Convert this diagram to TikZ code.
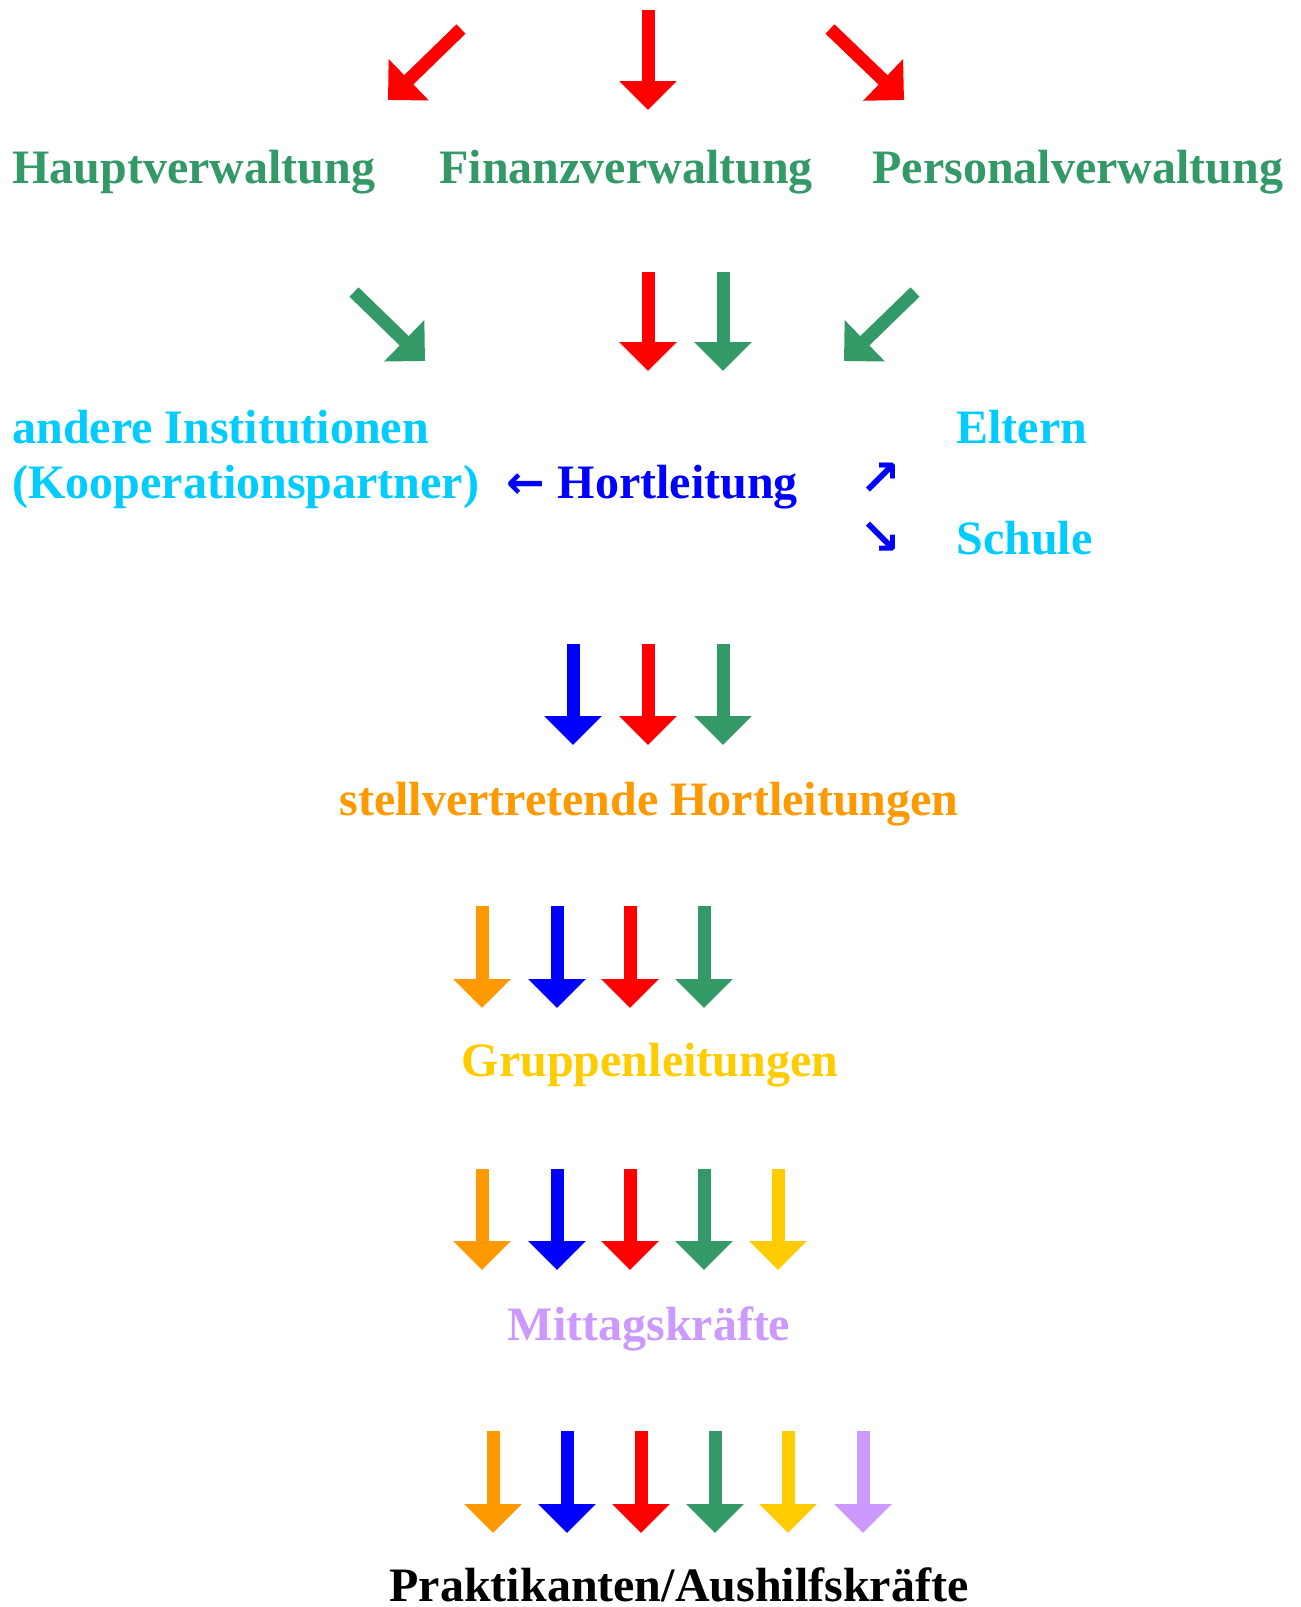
\documentclass[tikz,border=0pt]{standalone}
\usepackage{fontspec}
\setmainfont{Liberation Serif}
\newfontfamily\arrowglyphs{DejaVu Sans}
\usetikzlibrary{arrows.meta}
\definecolor{cred}{HTML}{FF0000}
\definecolor{cgreen}{HTML}{339966}
\definecolor{ccyan}{HTML}{00CCFF}
\definecolor{cblue}{HTML}{0000FF}
\definecolor{corange}{HTML}{FF9900}
\definecolor{cyellow}{HTML}{FFCC00}
\definecolor{clav}{HTML}{CC99FF}
\begin{document}
\begin{tikzpicture}[x=0.5pt,y=-0.5pt,
  blockarrow/.style={line width=6.5pt,line cap=butt,-{Triangle[width=28pt,length=14.5pt]}},
  lbl/.style={inner sep=0pt,font=\fontsize{24}{28}\selectfont\bfseries},
  lw/.style={lbl,anchor=base west},
  lc/.style={lbl,anchor=base},
  glyph/.style={inner sep=0pt,font=\arrowglyphs\bfseries\fontsize{25}{28}\selectfont}]
\fill[white] (0,0) rectangle (1301,1607);
\useasboundingbox (0,0) rectangle (1301,1607);
% row 1 arrows
\coordinate (a1s) at (461,29);  \coordinate (a1e) at (388,100);
\coordinate (a2s) at (648,10);  \coordinate (a2e) at (648,110);
\coordinate (a3s) at (830,29);  \coordinate (a3e) at (904,100);
\draw[blockarrow,cred] (a1s) -- (a1e);
\draw[blockarrow,cred] (a2s) -- (a2e);
\draw[blockarrow,cred] (a3s) -- (a3e);
% row 1 text
\node[lw,cgreen] (hv) at (12,183) {Hauptverwaltung};
\node[lw,cgreen] (fv) at (439,183) {Finanzverwaltung};
\node[lw,cgreen] (pv) at (872,183) {Personalverwaltung};
% row 2 arrows
\coordinate (b1s) at (354,292); \coordinate (b1e) at (425,361);
\coordinate (b2s) at (648,272); \coordinate (b2e) at (648,371);
\coordinate (b3s) at (723,272); \coordinate (b3e) at (723,371);
\coordinate (b4s) at (915,292); \coordinate (b4e) at (844,361);
\draw[blockarrow,cgreen] (b1s) -- (b1e);
\draw[blockarrow,cred] (b2s) -- (b2e);
\draw[blockarrow,cgreen] (b3s) -- (b3e);
\draw[blockarrow,cgreen] (b4s) -- (b4e);
% row 3 text
\node[lw,ccyan] (ai) at (12,443) {andere Institutionen};
\node[lw,ccyan] (kp) at (12,498) {(Kooperationspartner)};
\node[lw,ccyan] (el) at (956,443) {Eltern};
\node[lw,ccyan] (sc) at (956,554) {Schule};
\node[lw,cblue] (hl) at (506,498) {{\arrowglyphs\fontsize{23}{26}\selectfont ←}\hspace{6.5pt}Hortleitung};
\node[glyph,cblue] (ne) at (880,479) {↗};
\node[glyph,cblue] (se) at (880,538) {↘};
% row 4 arrows
\coordinate (c1s) at (573,644); \coordinate (c1e) at (573,745);
\coordinate (c2s) at (648,644); \coordinate (c2e) at (648,745);
\coordinate (c3s) at (723,644); \coordinate (c3e) at (723,745);
\draw[blockarrow,cblue] (c1s) -- (c1e);
\draw[blockarrow,cred] (c2s) -- (c2e);
\draw[blockarrow,cgreen] (c3s) -- (c3e);
\node[lc,corange] (sh) at (649,815) {stellvertretende Hortleitungen};
% row 5 arrows
\coordinate (d1s) at (482,906); \coordinate (d1e) at (482,1008);
\coordinate (d2s) at (557,906); \coordinate (d2e) at (557,1008);
\coordinate (d3s) at (630,906); \coordinate (d3e) at (630,1008);
\coordinate (d4s) at (704,906); \coordinate (d4e) at (704,1008);
\draw[blockarrow,corange] (d1s) -- (d1e);
\draw[blockarrow,cblue] (d2s) -- (d2e);
\draw[blockarrow,cred] (d3s) -- (d3e);
\draw[blockarrow,cgreen] (d4s) -- (d4e);
\node[lc,cyellow] (gl) at (650,1076) {Gruppenleitungen};
% row 6 arrows
\coordinate (e1s) at (482,1169); \coordinate (e1e) at (482,1270);
\coordinate (e2s) at (557,1169); \coordinate (e2e) at (557,1270);
\coordinate (e3s) at (630,1169); \coordinate (e3e) at (630,1270);
\coordinate (e4s) at (704,1169); \coordinate (e4e) at (704,1270);
\coordinate (e5s) at (778,1169); \coordinate (e5e) at (778,1270);
\draw[blockarrow,corange] (e1s) -- (e1e);
\draw[blockarrow,cblue] (e2s) -- (e2e);
\draw[blockarrow,cred] (e3s) -- (e3e);
\draw[blockarrow,cgreen] (e4s) -- (e4e);
\draw[blockarrow,cyellow] (e5s) -- (e5e);
\node[lc,clav] (mk) at (649,1340) {Mittagskräfte};
% row 7 arrows
\coordinate (f1s) at (493,1431); \coordinate (f1e) at (493,1533);
\coordinate (f2s) at (567,1431); \coordinate (f2e) at (567,1533);
\coordinate (f3s) at (641,1431); \coordinate (f3e) at (641,1533);
\coordinate (f4s) at (715,1431); \coordinate (f4e) at (715,1533);
\coordinate (f5s) at (788,1431); \coordinate (f5e) at (788,1533);
\coordinate (f6s) at (863,1431); \coordinate (f6e) at (863,1533);
\draw[blockarrow,corange] (f1s) -- (f1e);
\draw[blockarrow,cblue] (f2s) -- (f2e);
\draw[blockarrow,cred] (f3s) -- (f3e);
\draw[blockarrow,cgreen] (f4s) -- (f4e);
\draw[blockarrow,cyellow] (f5s) -- (f5e);
\draw[blockarrow,clav] (f6s) -- (f6e);
\node[lc,black] (pa) at (679,1601) {Praktikanten/Aushilfskräfte};
\end{tikzpicture}
\end{document}
